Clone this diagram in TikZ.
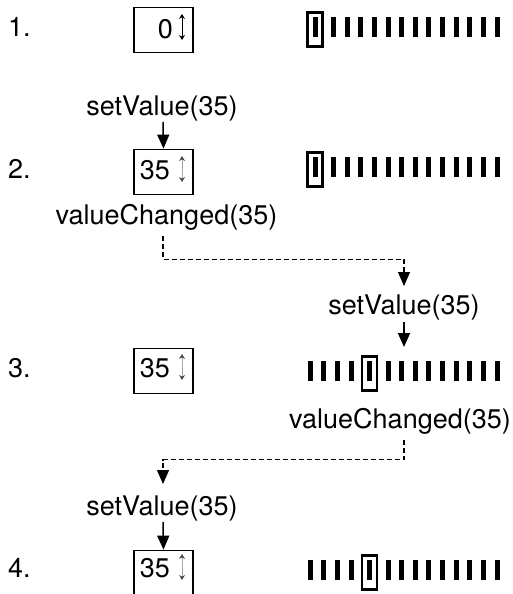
\documentclass[tikz,border=0pt]{standalone}
\usepackage{fontspec}
\setmainfont{TeX Gyre Heros}
\usetikzlibrary{arrows.meta}
\begin{document}
\begin{tikzpicture}[x=1pt,y=-1pt,
  lbl/.style={inner sep=0pt, anchor=base, font=\fontsize{27}{32}\selectfont},
  spinbox/.style={draw, line width=1.8pt, minimum width=59pt, minimum height=45pt, inner sep=0pt},
  bar/.style={fill=black},
  handlebox/.style={draw, line width=2.2pt},
  call/.style={line width=1.5pt, -{Triangle[width=12pt,length=14pt]}},
  signal/.style={line width=1.2pt, dash pattern=on 5pt off 3pt, -{Triangle[width=12pt,length=14pt]}},
  updown/.style={line width=0.9pt, {Stealth[length=5pt,width=6pt]}-{Stealth[length=5pt,width=6pt]}},
  greyupdown/.style={line width=0.9pt, draw=gray!70, {Stealth[length=5pt,width=6pt,gray!60!black]}-{Stealth[length=5pt,width=6pt,gray!60!black]}}
]
\useasboundingbox (0,0) rectangle (513,594);

% ---------- row labels ----------
\node[lbl, anchor=base west] (n1) at (8,37) {1.};
\node[lbl, anchor=base west] (n2) at (8,178) {2.};
\node[lbl, anchor=base west] (n3) at (8,377) {3.};
\node[lbl, anchor=base west] (n4) at (8,577) {4.};

% ---------- spin boxes ----------
\node[spinbox] (s1) at (163.5,30) {};
\node[lbl, anchor=base east] (t1) at (173,38) {0};
\draw[updown] (182,14) -- (182,40);

\node[spinbox] (s2) at (163.5,172) {};
\node[lbl, anchor=base east] (t2) at (170,179) {35};
\draw[greyupdown] (182,156) -- (182,182);

\node[spinbox] (s3) at (163.5,371) {};
\node[lbl, anchor=base east] (t3) at (170,377) {35};
\draw[greyupdown] (182,354) -- (182,380);

\node[spinbox] (s4) at (163.5,573) {};
\node[lbl, anchor=base east] (t4) at (170,577) {35};
\draw[greyupdown] (182,554) -- (182,580);

% ---------- sliders ----------
% row 1 (handle at start)
\draw[handlebox] (307.5,12.5) rectangle (322.5,46.5);
\fill[bar] (312.5,17) rectangle ++(5,20);
\foreach \i in {0,...,12} \fill[bar] (331+13.63*\i,17) rectangle ++(5,20);
% row 2
\draw[handlebox] (307.5,152.5) rectangle (322.5,186.5);
\fill[bar] (312.5,157) rectangle ++(5,20);
\foreach \i in {0,...,12} \fill[bar] (331+13.63*\i,157) rectangle ++(5,20);
% row 3 (handle moved)
\foreach \i in {0,...,3} \fill[bar] (307.8+13.63*\i,361) rectangle ++(5,20);
\draw[handlebox] (362,356.5) rectangle (377,390.5);
\fill[bar] (367,361) rectangle ++(5,20);
\foreach \i in {0,...,8} \fill[bar] (385.5+13.63*\i,361) rectangle ++(5,20);
% row 4
\foreach \i in {0,...,3} \fill[bar] (307.8+13.63*\i,560) rectangle ++(5,20);
\draw[handlebox] (362,555.5) rectangle (377,589.5);
\fill[bar] (367,560) rectangle ++(5,20);
\foreach \i in {0,...,8} \fill[bar] (385.5+13.63*\i,560) rectangle ++(5,20);

% ---------- messages ----------
\node[lbl] (sv2) at (162,115) {setValue(35)};
\node[lbl] (vc2) at (166.5,224) {valueChanged(35)};
\node[lbl] (sv3) at (404,314) {setValue(35)};
\node[lbl, anchor=base east] (vc3) at (511,428) {valueChanged(35)};
\node[lbl] (sv4) at (162,515) {setValue(35)};

\coordinate (a3) at (404,347);

\draw[call] (163,122) -- (s2.north);
\draw[signal] (163,236) -- (163,259.5) -- (404,259.5) -- (404,286);
\draw[call] (404,322) -- (a3);
\draw[signal] (404,440) -- (404,459.5) -- (163,459.5) -- (163,484);
\draw[call] (163,522) -- (s4.north);
\end{tikzpicture}
\end{document}
